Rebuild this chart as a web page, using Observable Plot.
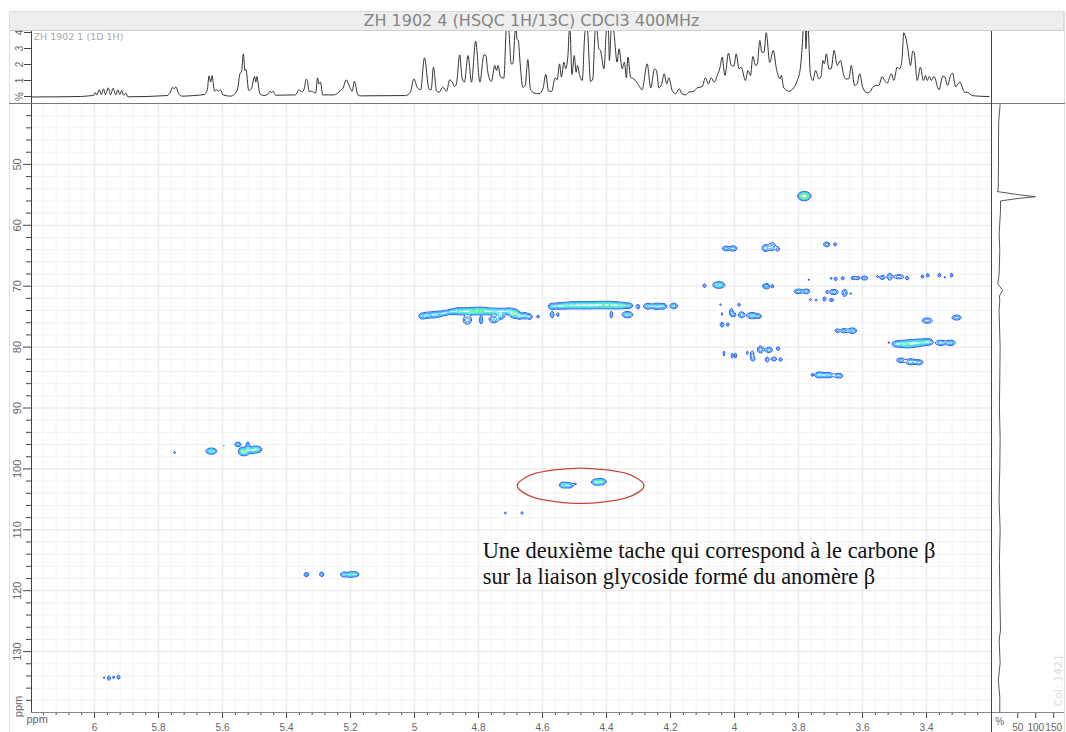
<!DOCTYPE html>
<html>
<head>
<meta charset="utf-8">
<script src="https://cdn.jsdelivr.net/npm/d3@7"></script>
<script src="https://cdn.jsdelivr.net/npm/@observablehq/plot@0.6"></script>
<style>
html,body{margin:0;padding:0;background:#fff;overflow:hidden}
#page{position:relative;width:1066px;height:732px;overflow:hidden}
.pane{position:absolute}
.pane svg{display:block;overflow:visible;max-width:none}
#title{position:absolute;left:9px;top:11px;width:1043px;padding-right:10px;height:18px;background:#eeeeee;border:1px solid #dcdcdc;border-bottom:1px solid #cfcfcf;text-align:center;font:16px/18px "DejaVu Sans",sans-serif;color:#858585}
.edge{position:absolute}
</style>
</head>
<body>
<div id="page">
<div id="title">ZH 1902 4 (HSQC 1H/13C) CDCl3 400MHz</div>
<div class="edge" style="left:9px;top:11px;width:1px;height:721px;background:#e0e0e0"></div>
<div class="edge" style="left:1064px;top:11px;width:1px;height:721px;background:#e0e0e0"></div>
<div class="pane" id="top" style="left:0;top:31px;width:1066px;height:72px"></div>
<div class="pane" id="main" style="left:0;top:103px;width:1066px;height:629px"></div>
<div class="pane" id="side" style="left:991px;top:103px;width:75px;height:629px"></div>
<div class="edge" style="left:9px;top:103px;width:1056px;height:1px;background:#777"></div>
<div class="edge" style="left:991px;top:31px;width:1px;height:701px;background:#444"></div>
</div>
<script>
// ---- data (ppm, intensity) ----
const protonLabel = "ZH 1902 1 (1D 1H)";
const colLabel = "Col: 1421";
const noteLines = ["Une deuxième tache qui correspond à le carbone β","sur la liaison glycoside formé du anomère β"];

const spec1 = [[6.197,-.03],[6.044,0],[6.018,.04],[6.002,.08],[5.998,.25],[5.993,.10],[5.985,.42],[5.979,.12],[5.972,.48],[5.966,.12],[5.957,.54],[5.950,.10],[5.942,.52],[5.934,.10],[5.927,.42],[5.921,.12],[5.915,.38],[5.909,.08],[5.902,.21],[5.896,-.02],[5.773,.06],[5.763,.27],[5.756,.58],[5.751,.48],[5.746,.60],[5.737,.17],[5.726,.02],[5.690,.06],[5.658,.12],[5.648,.38],[5.642,1.29],[5.637,.90],[5.633,1.31],[5.625,.33],[5.618,.42],[5.612,.33],[5.607,.42],[5.598,.10],[5.575,.02],[5.554,.38],[5.545,1.46],[5.541,1.52],[5.535,2.67],[5.530,1.62],[5.527,1.69],[5.518,.38],[5.510,.48],[5.500,1.25],[5.496,.90],[5.493,1.25],[5.483,.17],[5.471,.06],[5.457,.17],[5.452,.33],[5.447,.25],[5.442,.33],[5.434,.08],[5.372,.10],[5.361,.42],[5.351,.29],[5.344,.54],[5.339,1.08],[5.335,1.0],[5.330,.33],[5.322,.33],[5.309,.21],[5.303,1.17],[5.299,.79],[5.294,.90],[5.287,.10],[5.252,.10],[5.231,.38],[5.223,.54],[5.214,1.04],[5.200,.48],[5.195,.33],[5.188,.94],[5.177,.10],[5.169,.04]];
const spec2 = [[5.028,.06],[5.013,.27],[5.002,1.10],[4.992,.58],[4.981,.42],[4.969,2.42],[4.955,.48],[4.948,.42],[4.941,1.83],[4.931,.33],[4.923,.27],[4.912,.58],[4.900,.33],[4.890,1.04],[4.882,.90],[4.875,.62],[4.869,.79],[4.859,2.60],[4.851,1.10],[4.844,.90],[4.833,2.56],[4.822,.90],[4.809,3.46],[4.796,.90],[4.783,2.60],[4.777,2.56],[4.771,1.52],[4.760,.94],[4.749,1.94],[4.744,1.62],[4.739,1.94],[4.731,1.21],[4.721,1.15],[4.712,4.54],[4.705,4.02],[4.698,2.04],[4.693,2.04],[4.686,4.02],[4.683,4.54],[4.680,3.6],[4.676,3.5],[4.669,1.83],[4.662,.58],[4.654,.69],[4.646,2.31],[4.638,.48],[4.627,.23],[4.611,.17],[4.598,.54],[4.590,1.38],[4.581,.33],[4.571,.33],[4.561,1.17],[4.554,1.04],[4.547,2.04],[4.541,1.21],[4.533,2.15],[4.528,1.73],[4.521,2.46],[4.515,4.54],[4.508,1.38],[4.501,2.56],[4.495,1.52],[4.491,1.94],[4.484,1.31],[4.476,1.0],[4.468,3.92],[4.464,4.54],[4.459,4.02],[4.450,.94],[4.443,1.10],[4.436,4.02],[4.433,4.54],[4.429,4.02],[4.424,2.98],[4.419,2.88],[4.408,1.73],[4.401,4.02],[4.398,4.54],[4.394,4.02],[4.391,2.25],[4.386,4.02],[4.381,4.54],[4.377,4.02],[4.367,2.15],[4.361,2.98],[4.351,1.73],[4.344,2.15],[4.338,1.17],[4.333,2.46],[4.325,1.21],[4.315,1.10],[4.299,.69],[4.289,.42],[4.273,2.04],[4.262,.54],[4.250,1.73],[4.244,1.62],[4.236,.54],[4.228,.75],[4.220,1.42],[4.212,.79],[4.205,1.17],[4.195,.38],[4.184,.17],[4.173,.48],[4.164,.17],[4.153,.10],[4.143,.27],[4.127,.33],[4.117,.54],[4.101,.62],[4.091,1.17],[4.082,.79],[4.073,1.17],[4.064,.90],[4.054,1.31],[4.044,1.94]];
const spec3 = [[4.039,2.46],[4.030,1.31],[4.019,2.71],[4.010,1.94],[4.002,1.90],[3.995,2.67],[3.986,1.73],[3.979,1.83],[3.966,1.0],[3.958,1.62],[3.950,1.31],[3.943,2.50],[3.934,1.94],[3.929,2.0],[3.921,3.5],[3.915,2.77],[3.908,2.77],[3.901,3.98],[3.890,2.13],[3.879,2.88],[3.869,1.73],[3.858,1.10],[3.854,1.31],[3.846,.54],[3.830,.33],[3.815,.54],[3.804,1.0],[3.794,1.83],[3.788,3.29],[3.784,4.54],[3.779,4.5],[3.777,2.98],[3.773,4.5],[3.771,4.54],[3.763,1.42],[3.755,1.0],[3.747,1.62],[3.736,1.10],[3.729,1.31],[3.724,2.25],[3.719,2.04],[3.713,2.67],[3.705,1.73],[3.698,1.73],[3.689,2.88],[3.679,1.94],[3.669,2.25],[3.660,1.42],[3.652,1.10],[3.643,1.10],[3.635,1.94],[3.625,.69],[3.617,.79],[3.609,1.42],[3.599,.54],[3.585,.23],[3.575,.33],[3.567,.62],[3.556,.69],[3.549,.69],[3.539,1.25],[3.531,1.0],[3.523,.83],[3.510,1.42],[3.502,1.0],[3.492,1.83],[3.484,1.73],[3.477,2.25],[3.471,3.98],[3.460,3.19],[3.450,1.94],[3.443,2.83],[3.439,2.77],[3.429,1.0],[3.419,1.83],[3.410,1.0],[3.403,1.31],[3.398,1.0],[3.391,1.25],[3.385,1.0],[3.377,1.25],[3.361,.42],[3.349,1.27],[3.344,1.25],[3.334,.69],[3.325,1.31],[3.319,1.46],[3.309,.62],[3.296,.90],[3.281,.27],[3.273,.27],[3.257,.06],[3.236,.02],[3.205,0]];

// column trace: [13C ppm, %]
const colTrace = [[40.2,1],[42.9,-2.8],[46,-3.5],[50.5,-3.5],[54.2,-4.6],[54.46,-7],[55.0,55],[55.3,99],[55.6,50],[56,2],[57.6,2],[61.4,-1.7],[64.1,0],[68,-1.7],[69.6,-5.5],[70.7,8],[71.6,-1],[72.4,0],[74,-2],[80,1],[85,0],[90,-1],[95,1],[100,0],[105,-2],[110,1],[115,-1],[120,0],[126.5,2],[128.1,-1.7],[131.9,1],[134.7,-4],[137.4,0],[140,0]];

// HSQC cross peaks: [1H ppm, 13C ppm, 1H width, 13C width, intensity]
const band1 = [[4.975,74.9,.007,.3,3.2],[4.958,74.75,.007,.3,3],[4.940,74.7,.008,.3,3.4],[4.922,74.55,.007,.28,3],[4.905,74.4,.007,.26,2.8],[4.885,74.2,.008,.26,3.2],[4.865,74.1,.009,.3,4],[4.845,74.13,.009,.3,4.5],[4.825,74.13,.009,.3,5.5],[4.805,74.07,.009,.3,6],[4.785,74.07,.009,.3,5.5],[4.765,74.13,.009,.28,4.5],[4.745,74.13,.009,.28,4],[4.725,74.1,.008,.26,3.6],[4.705,74.1,.008,.3,4],[4.688,74.5,.008,.36,7],[4.672,74.9,.006,.3,3.6],[4.655,74.85,.006,.3,3.6],[4.640,75,.005,.28,2.8],[4.835,75.55,.008,.42,3],[4.792,75.55,.003,.42,2.8],[4.752,75.44,.009,.34,3.2],[4.731,74.9,.008,.3,3],[4.614,75.0,.003,.2,2]];
const band2 = [[4.570,73.3,.007,.3,3.4],[4.550,73.25,.008,.3,3.6],[4.530,73.2,.008,.3,4.5],[4.510,73.14,.008,.3,5],[4.490,73.14,.008,.3,5.5],[4.470,73.14,.008,.3,5.5],[4.450,73.14,.008,.3,5.5],[4.430,73.1,.008,.3,5.5],[4.410,73.09,.008,.3,6],[4.390,73.1,.008,.3,6],[4.370,73.14,.008,.3,5.5],[4.350,73.17,.008,.28,4.5],[4.330,73.2,.007,.26,3.2],[4.302,73.36,.004,.26,2.2],[4.271,73.3,.008,.28,3.2],[4.244,73.3,.009,.3,3.4],[4.223,73.3,.007,.28,3],[4.190,73.25,.007,.28,3.2],[4.570,74.67,.004,.32,2.6],[4.552,74.67,.0025,.26,2],[4.385,74.67,.0025,.38,2.4],[4.335,74.67,.010,.30,3.4]];
const rightUpper = [[4.028,63.8,.006,.24,2.8],[4.005,63.8,.008,.26,3],[3.903,63.74,.007,.34,3],[3.882,63.5,.007,.42,2.6],[3.865,63.9,.0035,.26,2.2],[3.712,63.14,.006,.24,3],[3.686,63.14,.003,.2,2.2],[3.768,68.93,.002,.12,1.6],[3.698,68.7,.0025,.14,1.8],[3.684,68.8,.0035,.22,2],[3.662,68.7,.0035,.2,2],[3.629,68.66,.005,.2,2.1],[3.615,68.66,.004,.2,2],[3.594,68.66,.007,.22,2.4],[3.554,68.4,.0025,.14,1.7],[3.538,68.55,.006,.22,2.4],[3.515,68.44,.005,.36,2.8],[3.486,68.44,.011,.24,2.2],[3.460,68.7,.0035,.2,2],[3.413,68.4,.003,.2,2],[3.396,68.2,.003,.24,2],[3.360,68.2,.003,.24,2],[3.343,68.55,.002,.12,1.7],[3.322,68.2,.003,.24,2]];
const rightMiddle = [[4.094,69.92,.0035,.2,2.2],[4.049,69.8,.010,.28,5],[3.908,70.0,.0035,.2,2],[3.898,70.0,.005,.3,2.5],[3.882,70.0,.003,.2,2],[3.800,70.85,.009,.22,3],[3.775,70.85,.006,.24,3],[3.711,70.95,.003,.16,1.9],[3.690,70.95,.009,.26,2.8],[3.656,71.1,.005,.36,2.8],[3.637,71.2,.002,.14,1.6],[3.763,72.2,.0025,.14,1.8],[3.745,72.3,.0025,.14,1.8],[3.719,72.1,.0035,.26,2],[3.697,72.27,.006,.16,2],[4.044,73.03,.002,.14,1.5],[3.986,73.03,.003,.24,1.8],[4.039,74.56,.002,.2,1.6],[4.010,74.3,.0035,.42,2.6],[4.002,74.67,.004,.22,2.4],[3.978,74.7,.006,.3,3],[3.945,74.83,.010,.3,3.4],[3.924,74.94,.005,.22,2.6],[4.039,76.3,.004,.26,2.4],[4.021,76.3,.0035,.2,2]];
const rightLower = [[3.398,75.65,.010,.26,3],[3.306,75.16,.009,.24,3],[3.679,77.3,.005,.2,2.2],[3.658,77.3,.007,.22,2.6],[3.632,77.3,.008,.26,3.4],[3.518,79.26,.002,.14,1.6],[3.495,79.48,.008,.3,3],[3.478,79.48,.008,.3,4],[3.460,79.48,.008,.32,6],[3.442,79.4,.008,.32,5],[3.425,79.3,.008,.32,4.5],[3.408,79.2,.007,.3,4],[3.392,79.15,.007,.3,3.5],[3.356,79.3,.010,.26,3],[3.325,79.3,.009,.26,3.2],[3.481,82.16,.008,.24,2.6],[3.450,82.4,.010,.3,3],[3.424,82.5,.008,.26,2.8],[3.757,84.56,.0025,.18,1.9],[3.736,84.56,.008,.28,3.4],[3.710,84.6,.012,.26,3.2],[3.674,84.7,.008,.24,2.8]];
const rightBottom = [[4.033,81.06,.002,.32,1.9],[4.007,81.4,.0025,.3,2],[3.997,81.4,.0025,.3,2],[3.960,80.95,.002,.24,1.7],[3.945,81.4,.004,.6,2.1],[3.919,80.4,.006,.34,3],[3.893,80.46,.007,.26,3],[3.864,80.24,.0035,.22,2.2],[3.898,82.05,.004,.3,2.2],[3.877,81.94,.006,.22,2.3],[3.856,82.05,.0035,.2,2.2],[3.940,81.94,.003,.2,1.8]];
const methoxy = [[3.782,55.2,.009,.32,12]];
const anomeric = [[5.750,97.3,.002,.18,1.6],[5.635,97.08,.009,.26,5],[5.552,95.98,.006,.22,3],[5.521,96.1,.0035,.34,2.5],[5.539,97.13,.006,.34,5],[5.528,97.13,.006,.34,5],[5.510,96.9,.008,.3,4],[5.494,96.8,.009,.28,5],[5.596,96.2,.0015,.1,1.2]];
const vinyl = [[5.338,117.35,.005,.22,2.6],[5.290,117.3,.004,.24,3],[5.221,117.35,.006,.24,3.4],[5.200,117.35,.008,.24,4.5],[5.184,117.3,.006,.22,3.6]];
const circled = [[4.535,102.65,.007,.26,4],[4.518,102.7,.008,.24,4],[4.498,102.45,.004,.1,1.6],[4.432,102.16,.008,.26,5],[4.416,102.1,.008,.26,5],[4.716,107.24,.002,.16,1.7],[4.664,107.24,.0025,.18,1.9]];
const olefin = [[5.970,134.3,.002,.14,1.7],[5.955,134.35,.003,.26,2.4],[5.940,134.2,.0025,.16,2],[5.925,134.2,.003,.22,2.5]];

const ringH = [4.679,4.621,4.481,4.341,4.283,4.341,4.481,4.621];
const ringC = [102.76,104.81,105.66,104.81,102.76,100.71,99.86,100.71];

const proton = [...spec1, ...spec2, ...spec3].map(([x,y]) => ({x,y}));
const peaks = [...band1,...band2,...rightUpper,...rightMiddle,...rightLower,...rightBottom,...methoxy,...anomeric,...vinyl,...circled,...olefin];
const contourLevels = [0.8,1.5,2.2,3,4.2,6,8];
const contourColors = ["#2e5ff0","#3c8cff","#45b8ff","#45e0f0","#45f0c0","#60f090","#80f070"];

const xDomain = [6.197,3.197];
const yDomain = [140,40];
const xMajor = [6,5.8,5.6,5.4,5.2,5,4.8,4.6,4.4,4.2,4,3.8,3.6,3.4];
const xMinor = d3.range(6.16,3.2,-0.04).map(v => +v.toFixed(2)).filter(v => !xMajor.includes(v));
const yMajor = [50,60,70,80,90,100,110,120,130];
const yMinor = d3.range(42,140,2).filter(v => v % 10 !== 0);
const axisFont = "Liberation Sans, sans-serif";
const axisInk = "#666";

function field(h, c) {
  let s = 0;
  for (const p of peaks) {
    const a = (h - p[0]) / p[2];
    if (a > 5 || a < -5) continue;
    const b = (c - p[1]) / p[3];
    s += p[4] * Math.exp(-0.5 * (a*a + b*b));
  }
  return s;
}

// 1D proton projection
document.getElementById("top").append(Plot.plot({
  width:1066, height:72, marginLeft:31, marginRight:75, marginTop:0, marginBottom:0,
  style:{background:"none", fontFamily:axisFont},
  x:{domain:xDomain, axis:null},
  y:{domain:[-0.4375,4.0625], axis:null},
  marks:[
    Plot.axisY({ticks:[0,1,2,3,4], tickSize:7, tickPadding:2, tickRotate:-90, fontSize:10, color:axisInk, label:null, tickFormat:d => d === 0 ? "%" : d, stroke:"#444"}),
    Plot.ruleX([xDomain[0]],{stroke:"#444"}),
    Plot.line(proton,{x:"x",y:"y",stroke:"#333",strokeWidth:1,clip:true,curve:"monotone-x"}),
    Plot.text([protonLabel],{frameAnchor:"top-left",dx:2,dy:2,fill:"#aaa",fontFamily:"DejaVu Sans",fontSize:9.5})
  ]
}));

// HSQC map
const noteY = [113.4,117.7];
document.getElementById("main").append(Plot.plot({
  width:1066, height:629, marginLeft:31, marginRight:75, marginTop:0, marginBottom:20,
  style:{background:"none", fontFamily:axisFont},
  x:{domain:xDomain, axis:null},
  y:{domain:yDomain, axis:null},
  color:{type:"ordinal", domain:contourLevels, range:contourColors},
  marks:[
    Plot.gridX(xMinor,{stroke:"#f3f3f3",strokeOpacity:1}),
    Plot.gridY(yMinor,{stroke:"#f3f3f3",strokeOpacity:1}),
    Plot.gridX(xMajor,{stroke:"#ececec",strokeOpacity:1,strokeWidth:1.5}),
    Plot.gridY(yMajor,{stroke:"#e6e6e6",strokeOpacity:1}),
    Plot.contour({x1:xDomain[0],x2:xDomain[1],y1:yDomain[1],y2:yDomain[0],value:field,thresholds:contourLevels,stroke:"value",fill:"none",strokeWidth:1,pixelSize:1,blur:0}),
    Plot.line(ringH.map((x,i) => ({x,y:ringC[i]})),{x:"x",y:"y",stroke:"#c8473c",strokeWidth:1.3,curve:"cardinal-closed",tension:0.1}),
    Plot.text(noteLines.map((t,i) => ({t,x:4.787,y:noteY[i]})),{x:"x",y:"y",text:"t",textAnchor:"start",fontFamily:"Liberation Serif, serif",fontSize:22.4,fill:"#111"}),
    Plot.axisX({ticks:xMinor,tickSize:3,stroke:"#444",label:null,fill:"none"}),
    Plot.axisX({ticks:xMajor,tickSize:6,tickPadding:5,fontSize:10,color:axisInk,stroke:"#444",label:null,tickFormat:d => String(d)}),
    Plot.axisY({ticks:yMinor,tickSize:5,stroke:"#444",label:null,fill:"none"}),
    Plot.axisY({ticks:yMajor,tickSize:8,tickPadding:3,tickRotate:-90,fontSize:11,color:axisInk,stroke:"#444",label:null}),
    Plot.ruleX([xDomain[0]],{stroke:"#444"}),
    Plot.ruleY([yDomain[0]],{stroke:"#888"}),
    Plot.text(["ppm"],{frameAnchor:"bottom-left",dx:-5,dy:10,fill:axisInk,fontSize:11}),
    Plot.text(["ppm"],{frameAnchor:"bottom-left",dx:-10,dy:-6,rotate:-90,textAnchor:"middle",fill:axisInk,fontSize:11})
  ]
}));

// column projection
document.getElementById("side").append(Plot.plot({
  width:75, height:629, marginLeft:0, marginRight:2, marginTop:0, marginBottom:20,
  style:{background:"none", fontFamily:axisFont},
  x:{domain:[-23,180], axis:null},
  y:{domain:yDomain, axis:null},
  marks:[
    Plot.axisX({ticks:[50,100,150],tickSize:6,tickPadding:5,fontSize:10,color:axisInk,stroke:"#444",label:null}),
    Plot.text(["%"],{x:[0],frameAnchor:"bottom",dy:9,lineAnchor:"middle",fontSize:10,fill:axisInk}),
    Plot.ruleY([yDomain[0]],{stroke:"#888"}),
    Plot.line(colTrace,{x:d => d[1],y:d => d[0],stroke:"#444",strokeWidth:0.9}),
    Plot.text([colLabel],{x:[163],y:[134.7],rotate:-90,fill:"#dcdcdc",fontFamily:"DejaVu Sans",fontSize:11})
  ]
}));
</script>
</body>
</html>
